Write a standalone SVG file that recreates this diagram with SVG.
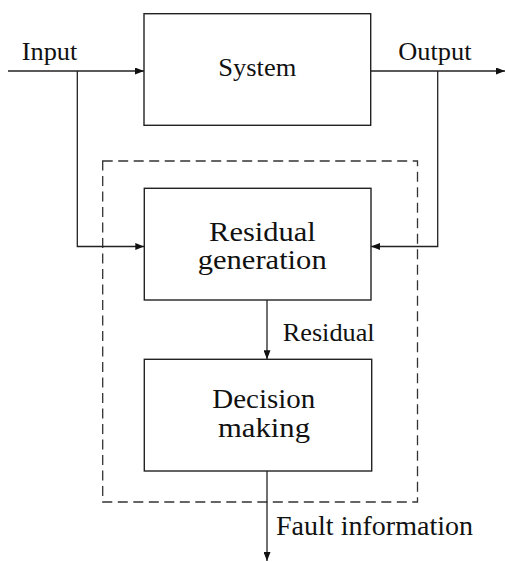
<svg xmlns="http://www.w3.org/2000/svg" width="505" height="562" viewBox="0 0 505 562">
  <style>
    .box { fill: #fff; stroke: #222; stroke-width: 1.4; }
    .wire { fill: none; stroke: #222; stroke-width: 1.3; }
    .frame { fill: none; stroke: #333; stroke-width: 1.3; stroke-dasharray: 10 5.5; }
    .lbl { font-size: 26px; }
    .blk { font-size: 27px; text-anchor: middle; }
  </style>
  <defs>
    <marker id="arr" viewBox="0 0 9 7" refX="9" refY="3.5" markerWidth="9" markerHeight="7" markerUnits="userSpaceOnUse" orient="auto">
      <path d="M0,0 L9,3.5 L0,7 Z" fill="#111"/>
    </marker>
  </defs>
  <rect width="505" height="562" fill="#fff"/>

  <!-- detection subsystem boundary -->
  <rect class="frame" x="102.7" y="161" width="314.8" height="341"/>

  <g id="connectors">
    <line class="wire" x1="8" y1="71" x2="144" y2="71" marker-end="url(#arr)"/>
    <line class="wire" x1="370.7" y1="71" x2="505" y2="71" marker-end="url(#arr)"/>
    <polyline class="wire" points="77.3,71 77.3,246.5 144.3,246.5" marker-end="url(#arr)"/>
    <polyline class="wire" points="437.7,71 437.7,246.5 371,246.5" marker-end="url(#arr)"/>
    <line class="wire" x1="267" y1="300" x2="267" y2="359.3" marker-end="url(#arr)"/>
    <line class="wire" x1="267" y1="471" x2="267" y2="561" marker-end="url(#arr)"/>
  </g>

  <g font-family="Liberation Serif, Times New Roman, serif" fill="#111">
    <g id="system">
      <rect class="box" x="144" y="13.7" width="226.7" height="111.6"/>
      <text class="lbl" x="257.3" y="76" text-anchor="middle" textLength="78" lengthAdjust="spacingAndGlyphs">System</text>
    </g>

    <g id="residual-generation">
      <rect class="box" x="144.3" y="188.3" width="226.7" height="111.7"/>
      <text class="blk" x="262.4" y="240.7" textLength="106.7" lengthAdjust="spacingAndGlyphs">Residual</text>
      <text class="blk" x="262.2" y="269" textLength="129" lengthAdjust="spacingAndGlyphs">generation</text>
    </g>

    <g id="decision-making">
      <rect class="box" x="144.3" y="359.3" width="227.4" height="111.7"/>
      <text class="blk" x="263.8" y="408.3" textLength="103" lengthAdjust="spacingAndGlyphs">Decision</text>
      <text class="blk" x="264" y="436.7" textLength="92" lengthAdjust="spacingAndGlyphs">making</text>
    </g>

    <g id="labels">
      <text class="lbl" x="21.7" y="59.5" textLength="55.6" lengthAdjust="spacingAndGlyphs">Input</text>
      <text class="lbl" x="398.3" y="59.5" textLength="73.3" lengthAdjust="spacingAndGlyphs">Output</text>
      <text class="lbl" x="282.7" y="340.7" textLength="92" lengthAdjust="spacingAndGlyphs">Residual</text>
      <text class="blk" x="374.5" y="535" textLength="197" lengthAdjust="spacingAndGlyphs">Fault information</text>
    </g>
  </g>
</svg>
